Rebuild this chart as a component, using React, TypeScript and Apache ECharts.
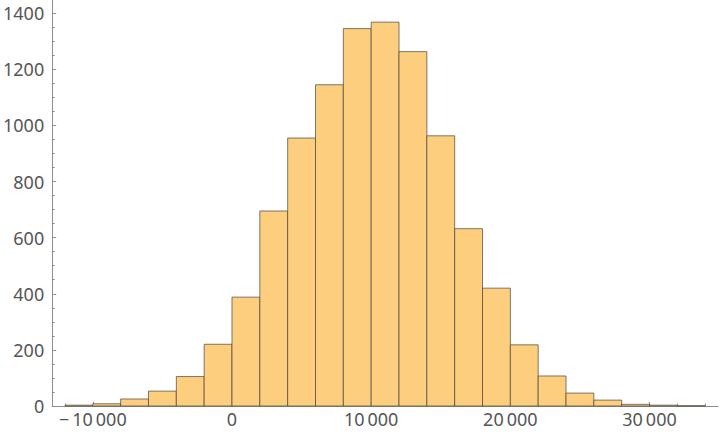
import React, { useEffect, useRef } from "react";
import * as echarts from "echarts";

// Histogram bins (left edges) and counts
const binLefts = [
  -12000, -10000, -8000, -6000, -4000, -2000, 0, 2000, 4000, 6000, 8000, 10000,
  12000, 14000, 16000, 18000, 20000, 22000, 24000, 26000, 28000, 30000, 32000,
];
const binWidth = 2000;
const counts = [
  3, 8, 25, 53, 105, 220, 388, 695, 955, 1145, 1345, 1368, 1263, 963, 632, 420,
  218, 107, 46, 21, 6, 3, 1,
];

const xMajorTicks = [-10000, 0, 10000, 20000, 30000];
const xMinorTicks = [
  -12000, -8000, -6000, -4000, -2000, 2000, 4000, 6000, 8000, 12000, 14000,
  16000, 18000, 22000, 24000, 26000, 28000, 32000, 34000,
];
const yMajorTicks = [0, 200, 400, 600, 800, 1000, 1200, 1400];
const yMinorTicks = [
  50, 100, 150, 250, 300, 350, 450, 500, 550, 650, 700, 750, 850, 900, 950,
  1050, 1100, 1150, 1250, 1300, 1350, 1450,
];

const xRange = [-12920, 34920];
const yRange = [0, 1447];

const AXIS_COLOR = "#8e8e8e";
const LABEL_COLOR = "#555555";
const FONT = "'Segoe UI', 'Noto Sans', 'Open Sans', sans-serif";

function fmtX(v: number): string {
  const neg = v < 0;
  const a = Math.abs(v);
  let s = String(a);
  if (a >= 10000) {
    s = s.slice(0, s.length - 3) + "\u2009" + s.slice(s.length - 3);
  }
  return neg ? "\u2212\u2009" + s : s;
}

export default function App() {
  const ref = useRef<HTMLDivElement>(null);

  useEffect(() => {
    if (!ref.current) return;
    const chart = echarts.init(ref.current, undefined, { renderer: "svg" });
    const data = binLefts.map((l, i) => [l, l + binWidth, counts[i]]);

    chart.setOption({
      animation: false,
      backgroundColor: "#ffffff",
      grid: { left: 51, right: 2, top: 0, bottom: 30, containLabel: false },
      xAxis: [
        {
          type: "value",
          min: xRange[0],
          max: xRange[1],
          position: "bottom",
          splitLine: { show: false },
          axisLine: { show: true, onZero: false, lineStyle: { color: AXIS_COLOR, width: 1 } },
          axisTick: {
            show: true,
            inside: true,
            length: 4,
            customValues: xMajorTicks,
            lineStyle: { color: AXIS_COLOR },
          },
          axisLabel: {
            show: true,
            customValues: xMajorTicks,
            formatter: (v: number) => fmtX(v),
            color: LABEL_COLOR,
            fontSize: 18,
            fontFamily: FONT,
            margin: 4,
          },
        },
        {
          type: "value",
          min: xRange[0],
          max: xRange[1],
          position: "bottom",
          splitLine: { show: false },
          axisLine: { show: false, onZero: false },
          axisTick: {
            show: true,
            inside: true,
            length: 2.5,
            customValues: xMinorTicks,
            lineStyle: { color: AXIS_COLOR },
          },
          axisLabel: { show: false },
        },
      ],
      yAxis: [
        {
          type: "value",
          min: yRange[0],
          max: yRange[1],
          position: "left",
          splitLine: { show: false },
          axisLine: { show: true, onZero: false, lineStyle: { color: AXIS_COLOR, width: 1 } },
          axisTick: {
            show: true,
            inside: true,
            length: 4,
            customValues: yMajorTicks,
            lineStyle: { color: AXIS_COLOR },
          },
          axisLabel: {
            show: true,
            customValues: yMajorTicks,
            formatter: (v: number) => String(v),
            color: LABEL_COLOR,
            fontSize: 18,
            fontFamily: FONT,
            margin: 8,
          },
        },
        {
          type: "value",
          min: yRange[0],
          max: yRange[1],
          position: "left",
          offset: 0,
          splitLine: { show: false },
          axisLine: { show: false, onZero: false },
          axisTick: {
            show: true,
            inside: true,
            length: 2.5,
            customValues: yMinorTicks,
            lineStyle: { color: AXIS_COLOR },
          },
          axisLabel: { show: false },
        },
      ],
      series: [
        {
          type: "custom",
          xAxisIndex: 0,
          yAxisIndex: 0,
          data,
          encode: { x: [0, 1], y: 2 },
          renderItem: (_params: any, api: any) => {
            const x0 = api.value(0);
            const x1 = api.value(1);
            const v = api.value(2);
            const p0 = api.coord([x0, 0]);
            const p1 = api.coord([x1, v]);
            return {
              type: "rect",
              shape: {
                x: p0[0],
                y: p1[1],
                width: p1[0] - p0[0],
                height: p0[1] - p1[1],
              },
              style: {
                fill: "#FDCE7E",
                stroke: "rgba(75, 68, 58, 0.7)",
                lineWidth: 1,
              },
            };
          },
        },
      ],
    });

    return () => chart.dispose();
  }, []);

  return (
    <div
      ref={ref}
      style={{ position: "absolute", left: 0, top: 0, width: 720, height: 436 }}
    />
  );
}
